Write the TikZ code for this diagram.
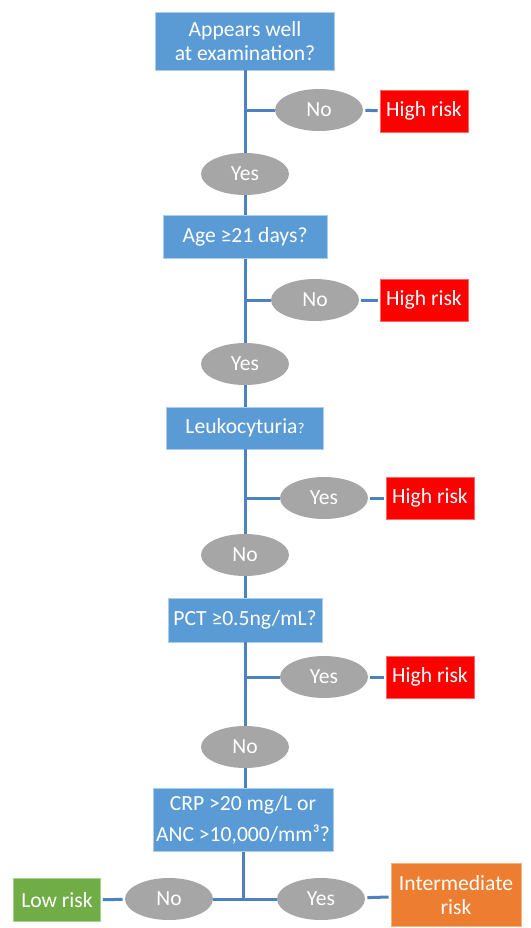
\documentclass[tikz,border=0pt]{standalone}
\usepackage{fontspec}
\setmainfont{Carlito}
\usepackage{tikz}
\usetikzlibrary{calc,positioning,shapes}
\tikzset{
  flownode/.style = {align=center, inner sep=1pt, text=white, text centered,
  font=\fontsize{10.8}{12.2}\selectfont},
  quest_n/.style = {flownode, rectangle, fill=my_blue, draw=my_edge, line width=0.4pt},
  ans_n/.style = {flownode, ellipse, fill=my_grey, draw=none, minimum width=44pt, minimum height=21pt},
  risk_h/.style = {flownode, rectangle, fill=my_red, draw=my_red!60!white, line width=0.3pt,
  minimum width=44pt, minimum height=21pt},
  risk_l/.style = {risk_h, fill=my_green, draw=my_green!60!white},
  risk_m/.style = {risk_h, fill=my_orange, draw=my_orange!60!white, minimum width=65pt, minimum height=31.5pt}
}
\definecolor{my_blue}{RGB}{91, 155, 213}
\definecolor{my_edge}{RGB}{170, 205, 235}
\definecolor{my_line}{RGB}{76, 130, 192}
\definecolor{my_grey}{RGB}{166, 166, 166}
\definecolor{my_red}{RGB}{255, 0, 0}
\definecolor{my_green}{RGB}{112, 173, 71}
\definecolor{my_orange}{RGB}{237, 125, 49}

\begin{document}
\begin{tikzpicture}[x=0.5pt, y=-0.5pt,
            link/.style={draw=my_line, line width=1.5pt},
            gap/.style={link, shorten <=1pt, shorten >=1pt}]
            \useasboundingbox (0,0) rectangle (531,928);
            % questions
            \node [quest_n, minimum width=89.5pt, minimum height=29pt] (q1) at (245,41) {Appears well\\at examination?};
            \node [quest_n, minimum width=82pt, minimum height=21.5pt] (q2) at (245,237) {Age ≥21 days?};
            \node [quest_n, minimum width=78.5pt, minimum height=21pt] (q3) at (245,428) {Leukocyturia{\fontsize{7.5}{8}\selectfont ?}};
            \node [quest_n, minimum width=77pt, minimum height=22pt] (q4) at (245,620) {PCT ≥0.5ng/mL?};
            \node [quest_n, minimum width=90pt, minimum height=31.5pt, font=\fontsize{10.8}{15.5}\selectfont] (q5) at (243,820) {CRP >20 mg/L or\\ANC >10,000/mm³?};
            % answers
            \node [ans_n] (no1) at (319,110) {No};
            \node [ans_n] (yes1) at (245,174) {Yes};
            \node [ans_n] (no2) at (315,300) {No};
            \node [ans_n] (yes2) at (245,364) {Yes};
            \node [ans_n] (yes3) at (324,498) {Yes};
            \node [ans_n] (no3) at (245,555) {No};
            \node [ans_n] (yes4) at (324,677) {Yes};
            \node [ans_n] (no4) at (245,747) {No};
            \node [ans_n] (no5) at (169,899) {No};
            \node [ans_n] (yes5) at (321,899) {Yes};
            % outcomes
            \node [risk_h] (hr1) at (424,111) {High risk};
            \node [risk_h] (hr2) at (424,300) {High risk};
            \node [risk_h] (hr3) at (430,498) {High risk};
            \node [risk_h] (hr4) at (430,677) {High risk};
            \node [risk_l, minimum width=43.5pt, minimum height=21.5pt] (low) at (57,900) {Low risk};
            \node [risk_m] (mid) at (456,895) {Intermediate\\risk};
            % connectors
            \foreach \q/\s/\d/\r/\n in {q1/no1/yes1/hr1/q2, q2/no2/yes2/hr2/q3, q3/yes3/no3/hr3/q4, q4/yes4/no4/hr4/q5} {
                \draw [link] (\q) -- (\d);
                \draw [link] (\d) -- (\d |- \n.north);
                \draw [link] (\q |- \s) -- (\s);
                \draw [gap] (\s) -- (\r);
            }
            \draw [link] (q5) -- (q5 |- no5);
            \draw [link] (no5) -- (yes5);
            \draw [gap] (no5) -- (low);
            \draw [gap] (yes5) -- (mid);
        \end{tikzpicture}
\end{document}
